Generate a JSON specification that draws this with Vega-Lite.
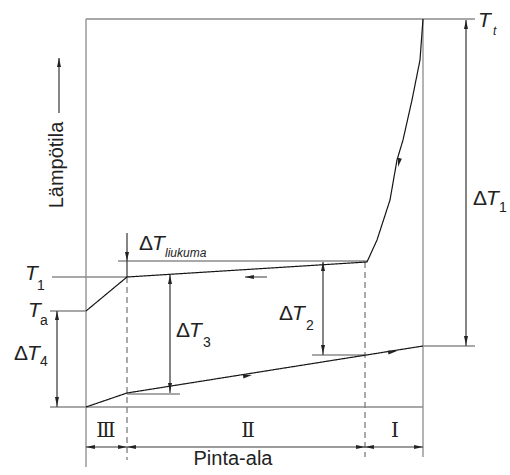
{
  "$schema": "https://vega.github.io/schema/vega-lite/v6.json",
  "width": 510,
  "height": 475,
  "autosize": "none",
  "padding": 0,
  "background": "white",
  "config": {"view": {"stroke": null}},
  "datasets": {
    "lines": [
      {"seg": "F1", "kind": "frame", "o": 0, "a": 86, "temp": 456}, {"seg": "F1", "kind": "frame", "o": 1, "a": 475, "temp": 456},
      {"seg": "F2", "kind": "frame", "o": 0, "a": 86, "temp": 456}, {"seg": "F2", "kind": "frame", "o": 1, "a": 86, "temp": 8},
      {"seg": "F3", "kind": "frame", "o": 0, "a": 423, "temp": 456}, {"seg": "F3", "kind": "frame", "o": 1, "a": 423, "temp": 18},
      {"seg": "F4", "kind": "frame", "o": 0, "a": 50, "temp": 68}, {"seg": "F4", "kind": "frame", "o": 1, "a": 423, "temp": 68},
      {"seg": "F5", "kind": "frame", "o": 0, "a": 52, "temp": 198}, {"seg": "F5", "kind": "frame", "o": 1, "a": 127, "temp": 198},
      {"seg": "F6", "kind": "frame", "o": 0, "a": 50, "temp": 164}, {"seg": "F6", "kind": "frame", "o": 1, "a": 86, "temp": 164},
      {"seg": "F7", "kind": "frame", "o": 0, "a": 118, "temp": 214}, {"seg": "F7", "kind": "frame", "o": 1, "a": 367, "temp": 214},
      {"seg": "F8", "kind": "frame", "o": 0, "a": 423, "temp": 129}, {"seg": "F8", "kind": "frame", "o": 1, "a": 475, "temp": 129},
      {"seg": "F9", "kind": "frame", "o": 0, "a": 127, "temp": 81}, {"seg": "F9", "kind": "frame", "o": 1, "a": 180, "temp": 81},
      {"seg": "F10", "kind": "frame", "o": 0, "a": 312, "temp": 120}, {"seg": "F10", "kind": "frame", "o": 1, "a": 365, "temp": 120},
      {"seg": "D1", "kind": "dash", "o": 0, "a": 127, "temp": 198}, {"seg": "D1", "kind": "dash", "o": 1, "a": 127, "temp": 15},
      {"seg": "D2", "kind": "dash", "o": 0, "a": 365, "temp": 213}, {"seg": "D2", "kind": "dash", "o": 1, "a": 365, "temp": 18},
      {"seg": "A1", "kind": "dim", "o": 0, "a": 466, "temp": 455}, {"seg": "A1", "kind": "dim", "o": 1, "a": 466, "temp": 129},
      {"seg": "A2", "kind": "dim", "o": 0, "a": 323, "temp": 213}, {"seg": "A2", "kind": "dim", "o": 1, "a": 323, "temp": 120},
      {"seg": "A3", "kind": "dim", "o": 0, "a": 170, "temp": 200}, {"seg": "A3", "kind": "dim", "o": 1, "a": 170, "temp": 82},
      {"seg": "A4", "kind": "dim", "o": 0, "a": 57, "temp": 164}, {"seg": "A4", "kind": "dim", "o": 1, "a": 57, "temp": 68},
      {"seg": "A5", "kind": "dim", "o": 0, "a": 127, "temp": 242}, {"seg": "A5", "kind": "dim", "o": 1, "a": 127, "temp": 198},
      {"seg": "A6", "kind": "dim", "o": 0, "a": 86, "temp": 28}, {"seg": "A6", "kind": "dim", "o": 1, "a": 423, "temp": 28},
      {"seg": "A7", "kind": "dim", "o": 0, "a": 59, "temp": 417}, {"seg": "A7", "kind": "dim", "o": 1, "a": 59, "temp": 362},
      {"seg": "A8", "kind": "dim", "o": 0, "a": 245, "temp": 198}, {"seg": "A8", "kind": "dim", "o": 1, "a": 267, "temp": 198},
      {"seg": "C1", "kind": "curve", "o": 0, "a": 86, "temp": 68}, {"seg": "C1", "kind": "curve", "o": 1, "a": 127, "temp": 82}, {"seg": "C1", "kind": "curve", "o": 2, "a": 423, "temp": 129},
      {"seg": "C2", "kind": "curve", "o": 0, "a": 423, "temp": 456}, {"seg": "C2", "kind": "curve", "o": 1, "a": 420, "temp": 415},
      {"seg": "C2", "kind": "curve", "o": 2, "a": 412, "temp": 375}, {"seg": "C2", "kind": "curve", "o": 3, "a": 403, "temp": 335},
      {"seg": "C2", "kind": "curve", "o": 4, "a": 397, "temp": 315}, {"seg": "C2", "kind": "curve", "o": 5, "a": 390, "temp": 275},
      {"seg": "C2", "kind": "curve", "o": 6, "a": 377, "temp": 235}, {"seg": "C2", "kind": "curve", "o": 7, "a": 367, "temp": 213},
      {"seg": "C2", "kind": "curve", "o": 8, "a": 127, "temp": 198}, {"seg": "C2", "kind": "curve", "o": 9, "a": 86, "temp": 164}
    ],
    "arrows": [
      {"a": 466, "temp": 455, "dir": "up"}, {"a": 466, "temp": 130, "dir": "down"},
      {"a": 323, "temp": 213, "dir": "up"}, {"a": 323, "temp": 121, "dir": "down"},
      {"a": 170, "temp": 200, "dir": "up"}, {"a": 170, "temp": 83, "dir": "down"},
      {"a": 57, "temp": 164, "dir": "up"}, {"a": 57, "temp": 69, "dir": "down"},
      {"a": 127, "temp": 214, "dir": "down"}, {"a": 59, "temp": 417, "dir": "up"},
      {"a": 245, "temp": 198, "dir": "left"},
      {"a": 86, "temp": 28, "dir": "left"}, {"a": 127, "temp": 28, "dir": "right"},
      {"a": 127, "temp": 28, "dir": "left"}, {"a": 365, "temp": 28, "dir": "right"},
      {"a": 365, "temp": 28, "dir": "left"}, {"a": 423, "temp": 28, "dir": "right"},
      {"a": 252, "temp": 100, "dir": "fwd"}, {"a": 397, "temp": 124, "dir": "fwd"},
      {"a": 398, "temp": 308, "dir": "steep"}
    ],
    "texts": [
      {"k": "T", "a": 478, "temp": 448, "t": "T"}, {"k": "si", "a": 493, "temp": 440, "t": "t"},
      {"k": "T", "a": 25, "temp": 195, "t": "T"}, {"k": "s", "a": 37, "temp": 185, "t": "1"},
      {"k": "T", "a": 28, "temp": 158, "t": "T"}, {"k": "s", "a": 40, "temp": 150, "t": "a"},
      {"k": "D", "a": 473, "temp": 270, "t": "Δ"}, {"k": "T", "a": 486, "temp": 270, "t": "T"}, {"k": "s", "a": 499, "temp": 263, "t": "1"},
      {"k": "D", "a": 279, "temp": 155, "t": "Δ"}, {"k": "T", "a": 292, "temp": 155, "t": "T"}, {"k": "s", "a": 306, "temp": 145, "t": "2"},
      {"k": "D", "a": 176, "temp": 138, "t": "Δ"}, {"k": "T", "a": 189, "temp": 138, "t": "T"}, {"k": "s", "a": 203, "temp": 128, "t": "3"},
      {"k": "D", "a": 14, "temp": 115, "t": "Δ"}, {"k": "T", "a": 27, "temp": 115, "t": "T"}, {"k": "s", "a": 40, "temp": 109, "t": "4"},
      {"k": "D", "a": 139, "temp": 225, "t": "Δ"}, {"k": "T", "a": 152, "temp": 225, "t": "T"}, {"k": "si", "a": 165, "temp": 218, "t": "liukuma"},
      {"k": "L", "a": 233, "temp": 10, "t": "Pinta-ala"},
      {"k": "R", "a": 106, "temp": 38, "t": "Ⅲ"}, {"k": "R", "a": 248, "temp": 38, "t": "Ⅱ"}, {"k": "R", "a": 395, "temp": 38, "t": "Ⅰ"},
      {"k": "V", "a": 57, "temp": 310, "t": "Lämpötila"}
    ]
  },
  "encoding": {
    "x": {"field": "a", "type": "quantitative", "scale": {"domain": [0, 510], "nice": false, "zero": false}, "axis": null},
    "y": {"field": "temp", "type": "quantitative", "scale": {"domain": [0, 475], "nice": false, "zero": false}, "axis": null}
  },
  "layer": [
    {
      "data": {"name": "lines"},
      "mark": {"type": "line", "strokeCap": "butt"},
      "encoding": {
        "detail": {"field": "seg"},
        "order": {"field": "o", "type": "quantitative"},
        "color": {"field": "kind", "type": "nominal", "scale": {"domain": ["frame", "dash", "dim", "curve"], "range": ["#8c8c8c", "#7a7a7a", "#3a3a3a", "#151515"]}, "legend": null},
        "strokeWidth": {"field": "kind", "type": "nominal", "scale": {"domain": ["frame", "dash", "dim", "curve"], "range": [1.3, 1.2, 1.1, 2.2]}, "legend": null},
        "strokeDash": {"field": "kind", "type": "nominal", "scale": {"domain": ["frame", "dash", "dim", "curve"], "range": [[1, 0], [6, 4], [1, 0], [1, 0]]}, "legend": null}
      }
    },
    {
      "data": {"name": "arrows"},
      "mark": {"type": "point", "filled": true, "opacity": 1, "size": 80, "color": "#222222", "strokeWidth": 0},
      "encoding": {
        "shape": {"field": "dir", "type": "nominal", "legend": null,
          "scale": {"domain": ["up", "down", "left", "right", "fwd", "steep"],
                    "range": ["M0,0L-0.45,2L0.45,2Z", "M0,0L-0.45,-2L0.45,-2Z", "M0,0L2,-0.45L2,0.45Z", "M0,0L-2,-0.45L-2,0.45Z", "M0,0L-1.91,0.76L-2.05,-0.13Z", "M0,0L0.86,-1.86L-0.02,-2.05Z"]}}
      }
    },
    {
      "data": {"name": "texts"},
      "transform": [{"filter": "datum.k == 'D'"}],
      "mark": {"type": "text", "font": "Liberation Sans", "fontSize": 21, "align": "left", "baseline": "alphabetic", "color": "#222222"},
      "encoding": {"text": {"field": "t"}}
    },
    {
      "data": {"name": "texts"},
      "transform": [{"filter": "datum.k == 'T'"}],
      "mark": {"type": "text", "font": "Liberation Sans", "fontSize": 21, "fontStyle": "italic", "align": "left", "baseline": "alphabetic", "color": "#222222"},
      "encoding": {"text": {"field": "t"}}
    },
    {
      "data": {"name": "texts"},
      "transform": [{"filter": "datum.k == 's'"}],
      "mark": {"type": "text", "font": "Liberation Sans", "fontSize": 14, "align": "left", "baseline": "alphabetic", "color": "#222222"},
      "encoding": {"text": {"field": "t"}}
    },
    {
      "data": {"name": "texts"},
      "transform": [{"filter": "datum.k == 'si'"}],
      "mark": {"type": "text", "font": "Liberation Sans", "fontSize": 12, "fontStyle": "italic", "align": "left", "baseline": "alphabetic", "color": "#222222"},
      "encoding": {"text": {"field": "t"}}
    },
    {
      "data": {"name": "texts"},
      "transform": [{"filter": "datum.k == 'L'"}],
      "mark": {"type": "text", "font": "Liberation Sans", "fontSize": 20, "align": "center", "baseline": "alphabetic", "color": "#222222"},
      "encoding": {"text": {"field": "t"}}
    },
    {
      "data": {"name": "texts"},
      "transform": [{"filter": "datum.k == 'R'"}],
      "mark": {"type": "text", "font": "DejaVu Serif", "fontSize": 20, "align": "center", "baseline": "alphabetic", "color": "#222222"},
      "encoding": {"text": {"field": "t"}}
    },
    {
      "data": {"name": "texts"},
      "transform": [{"filter": "datum.k == 'V'"}],
      "mark": {"type": "text", "font": "Liberation Sans", "fontSize": 20, "angle": 270, "align": "center", "baseline": "middle", "color": "#222222"},
      "encoding": {"text": {"field": "t"}}
    }
  ]
}
